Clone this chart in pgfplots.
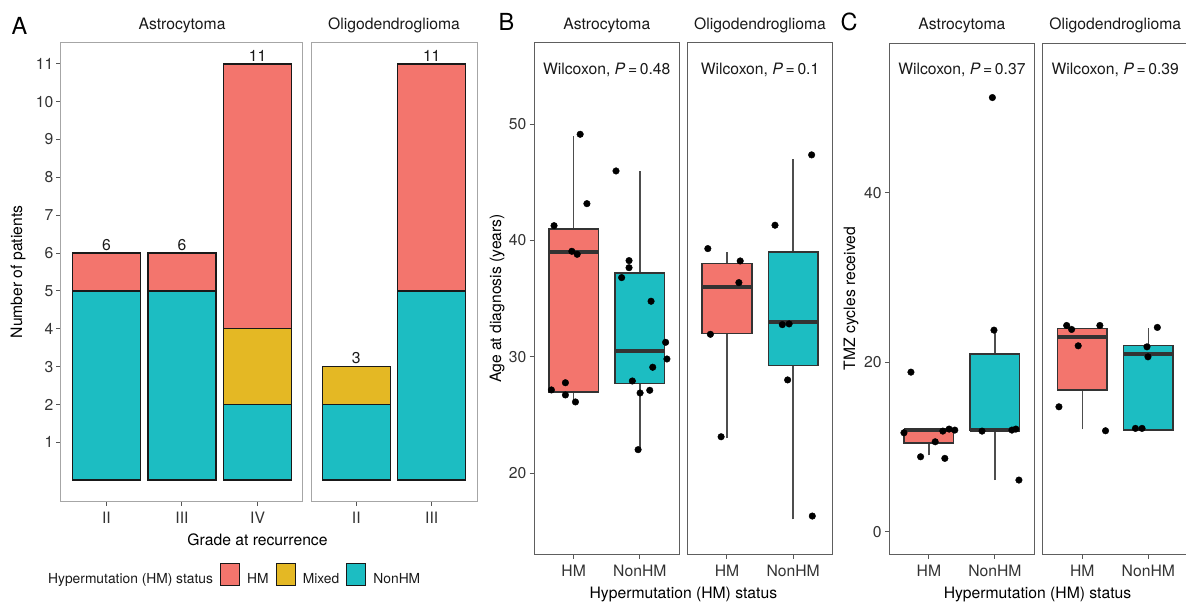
\documentclass[border=0pt]{standalone}
\usepackage{fontspec}
\setmainfont{TeX Gyre Heros}
\usepackage{pgfplots}
\pgfplotsset{compat=1.18}
\definecolor{cHM}{HTML}{F3756D}
\definecolor{cMix}{HTML}{E4B824}
\definecolor{cNon}{HTML}{1CBDC2}
\definecolor{frameA}{HTML}{A6A6A6}
\definecolor{frameB}{HTML}{5E5E5E}
\definecolor{tickc}{HTML}{555555}
\definecolor{ticktext}{HTML}{333333}
\definecolor{boxline}{HTML}{333333}
\definecolor{whisk}{HTML}{4D4D4D}
\newcommand\fmain{\fontsize{15.7}{18}\selectfont}
\newcommand\fleg{\fontsize{13.8}{16}\selectfont}
\newcommand\flet{\fontsize{23.5}{26}\selectfont}
\tikzset{wil/.style={font=\fmain, text=black!90}}
\pgfplotsset{
  facet/.style={
    scale only axis, anchor=south west, clip=false,
    axis line style={draw=frameB, line width=1pt},
    tick style={draw=tickc, line width=1pt},
    tick align=outside, major tick length=4.5pt,
    xtick pos=left, ytick pos=left,
    tick label style={font=\fmain, text=ticktext},
    yticklabel style={inner xsep=3pt},
    xticklabel style={yshift=-3.5pt},
    /pgf/number format/assume math mode=true,
    title style={at={(0.5,1)}, anchor=center, yshift=11.5pt, font=\fmain, text=black!90},
    xmin=0.4,
  },
  dots/.style={only marks, mark=*, mark size=3.3pt, black, mark options={draw=none, fill=black}},
  barsty/.style={draw=black!90, line width=1.4pt},
}
% box: #1 x, #2 left, #3 right, #4 fill, #5 lower whisker, #6 Q1, #7 median, #8 Q3, #9 upper whisker
\newcommand\bx[9]{%
  \addplot[draw=whisk, line width=1.4pt, line cap=butt] coordinates {(#1,#5) (#1,#6)};
  \addplot[draw=whisk, line width=1.4pt, line cap=butt] coordinates {(#1,#8) (#1,#9)};
  \addplot[fill=#4, draw=boxline, line width=1.5pt] coordinates {(#2,#6) (#3,#6) (#3,#8) (#2,#8)} -- cycle;
  \addplot[draw=boxline, line width=3.3pt, line cap=butt] coordinates {(#2,#7) (#3,#7)};
}
\begin{document}
\begin{tikzpicture}[x=1pt,y=1pt]
\useasboundingbox (0,0) rectangle (1186,603);

% ---------------- Panel A ----------------
\begin{axis}[facet, at={(61pt,102pt)}, width=242pt, height=458pt,
  axis line style={draw=frameA, line width=1pt},
  xmax=3.6, ymin=-0.55, ymax=11.55,
  xtick={1,2,3}, xticklabels={II,III,IV}, ytick={1,2,...,11},
  title={Astrocytoma}, ybar stacked, bar width=0.9]
\addplot[barsty, fill=cNon] coordinates {(1,5) (2,5) (3,2)};
\addplot[barsty, fill=cMix] coordinates {(1,0) (2,0) (3,2)};
\addplot[barsty, fill=cHM] coordinates {(1,1) (2,1) (3,7)};
\node[font=\fmain, text=black!90, anchor=south, inner sep=2.5pt] at (axis cs:1,6) {6};
\node[font=\fmain, text=black!90, anchor=south, inner sep=2.5pt] at (axis cs:2,6) {6};
\node[font=\fmain, text=black!90, anchor=south, inner sep=2.5pt] at (axis cs:3,11) {11};
\end{axis}
\begin{axis}[facet, at={(311pt,102pt)}, width=166pt, height=458pt,
  axis line style={draw=frameA, line width=1pt},
  xmax=2.6, ymin=-0.55, ymax=11.55,
  xtick={1,2}, xticklabels={II,III}, ytick=\empty,
  title={Oligodendroglioma}, ybar stacked, bar width=0.9]
\addplot[barsty, fill=cNon] coordinates {(1,2) (2,5)};
\addplot[barsty, fill=cMix] coordinates {(1,1) (2,0)};
\addplot[barsty, fill=cHM] coordinates {(1,0) (2,6)};
\node[font=\fmain, text=black!90, anchor=south, inner sep=2.5pt] at (axis cs:1,3) {3};
\node[font=\fmain, text=black!90, anchor=south, inner sep=2.5pt] at (axis cs:2,11) {11};
\end{axis}

% legend
\begin{axis}[hide axis, scale only axis, width=10pt, height=20pt, at={(41pt,18.5pt)}, anchor=south west,
  xmin=0, xmax=1, ymin=0, ymax=1,
  legend columns=-1,
  legend image code/.code={\draw[#1, line width=1.2pt] (0pt,-6.5pt) rectangle (19pt,15.5pt);},
  legend style={at={(0,0.5)}, anchor=west, draw=none, fill=none, inner sep=0pt,
    font=\fleg, text=black!90,
    /tikz/every odd column/.append style={column sep=7pt},
    /tikz/every even column/.append style={column sep=7pt},
    nodes={inner xsep=0pt, inner ysep=1pt}},
  legend cell align=left]
\addlegendimage{empty legend}\addlegendentry{Hypermutation (HM) status}
\addlegendimage{fill=cHM, draw=black!90}\addlegendentry{HM}
\addlegendimage{fill=cMix, draw=black!90}\addlegendentry{Mixed}
\addlegendimage{fill=cNon, draw=black!90}\addlegendentry{NonHM}
\end{axis}

% ---------------- Panel B ----------------
\begin{axis}[facet, at={(534pt,49pt)}, width=145.5pt, height=511pt,
  xmax=2.6, ymin=13.07, ymax=56.96,
  xtick={1,2}, xticklabels={HM,NonHM}, ytick={20,30,40,50},
  title={Astrocytoma}]
\bx{1}{0.625}{1.375}{cHM}{26.15}{27}{39}{41}{49}
\bx{2}{1.625}{2.375}{cNon}{22.03}{27.7}{30.5}{37.2}{46}
\addplot[dots] coordinates {(1.098,49.12) (1.2,43.16) (0.703,41.27) (0.972,39.07) (1.053,38.81) (0.875,27.78) (0.663,27.16) (0.875,26.73) (1.027,26.13)};
\addplot[dots] coordinates {(1.64,45.97) (1.837,38.27) (1.837,37.66) (1.725,36.81) (2.17,34.78) (2.39,31.25) (2.41,29.82) (2.195,29.11) (1.887,27.93) (2.15,27.13) (2.004,26.9) (1.974,22.03)};
\node[wil] at (rel axis cs:0.5,0.947) {Wilcoxon, \textit{P}\,=\,0.48};
\end{axis}
\begin{axis}[facet, at={(687.3pt,49pt)}, width=145.5pt, height=511pt,
  xmax=2.6, ymin=13.07, ymax=56.96,
  xtick={1,2}, xticklabels={HM,NonHM}, ytick=\empty,
  title={Oligodendroglioma}]
\bx{1}{0.625}{1.375}{cHM}{23}{32}{36}{38}{39}
\bx{2}{1.625}{2.375}{cNon}{16.05}{29.25}{33}{39}{47}
\addplot[dots] coordinates {(0.71,39.3) (1.2,38.24) (1.18,36.38) (0.749,31.94) (0.911,23.14)};
\addplot[dots] coordinates {(2.28,47.35) (1.726,41.31) (1.837,32.77) (1.939,32.83) (1.917,28.02) (2.29,16.33)};
\node[wil] at (rel axis cs:0.5,0.947) {Wilcoxon, \textit{P}\,=\,0.1};
\end{axis}

% ---------------- Panel C ----------------
\begin{axis}[facet, at={(889.3pt,49pt)}, width=145.2pt, height=511pt,
  xmax=2.6, ymin=-2.63, ymax=57.7,
  xtick={1,2}, xticklabels={HM,NonHM}, ytick={0,20,40},
  title={Astrocytoma}]
\bx{1}{0.625}{1.375}{cHM}{9.0}{10.5}{12}{12}{12}
\bx{2}{1.625}{2.375}{cNon}{6.1}{12}{12}{21}{23.8}
\addplot[dots] coordinates {(0.728,18.84) (0.622,11.68) (1.211,11.88) (1.306,12.12) (1.392,12.0) (1.095,10.62) (0.874,8.85) (1.241,8.66)};
\addplot[dots] coordinates {(1.962,51.26) (1.986,23.8) (1.805,11.88) (2.258,12.0) (2.318,12.12) (2.364,6.1)};
\node[wil] at (rel axis cs:0.5,0.947) {Wilcoxon, \textit{P}\,=\,0.37};
\end{axis}
\begin{axis}[facet, at={(1042.7pt,49pt)}, width=145.2pt, height=511pt,
  xmax=2.6, ymin=-2.63, ymax=57.7,
  xtick={1,2}, xticklabels={HM,NonHM}, ytick=\empty,
  title={Oligodendroglioma}]
\bx{1}{0.625}{1.375}{cHM}{12.08}{16.72}{23}{24}{24}
\bx{2}{1.625}{2.375}{cNon}{12}{12}{21}{22}{24}
\addplot[dots] coordinates {(0.763,24.35) (0.838,23.88) (1.266,24.35) (0.938,21.95) (0.646,14.75) (1.352,11.92)};
\addplot[dots] coordinates {(2.137,24.12) (1.98,21.83) (1.995,20.65) (1.805,12.2) (1.905,12.2)};
\node[wil] at (rel axis cs:0.5,0.947) {Wilcoxon, \textit{P}\,=\,0.39};
\end{axis}

% titles and letters
\node[font=\fmain, rotate=90] at (18,331) {Number of patients};
\node[font=\fmain] at (257.5,63) {Grade at recurrence};
\node[font=\fmain, rotate=90] at (497,304.5) {Age at diagnosis (years)};
\node[font=\fmain] at (683.4,8.5) {Hypermutation (HM) status};
\node[font=\fmain, rotate=90] at (851,304.5) {TMZ cycles received};
\node[font=\fmain] at (1037.5,8.5) {Hypermutation (HM) status};
\node[font=\flet, anchor=base west, inner sep=0pt] at (11.5,568) {A};
\node[font=\flet, anchor=base west, inner sep=0pt] at (498.5,572) {B};
\node[font=\flet, anchor=base west, inner sep=0pt] at (840.5,572) {C};
\end{tikzpicture}
\end{document}
